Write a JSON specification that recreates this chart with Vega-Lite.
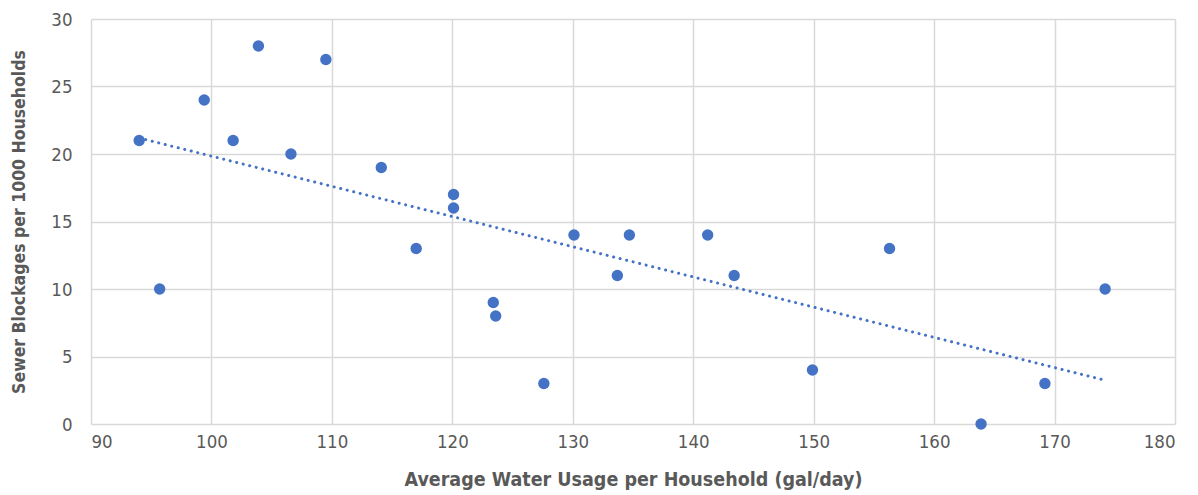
{
  "$schema": "https://vega.github.io/schema/vega-lite/v6.json",
  "width": 1084,
  "height": 405,
  "autosize": {"type": "none"},
  "padding": {"left": 91, "top": 19, "right": 23, "bottom": 71},
  "background": "white",
  "config": {
    "view": {"stroke": null},
    "font": "DejaVu Sans Condensed, sans-serif"
  },
  "data": {
    "values": [
      {"usage": 94.0, "blockages": 21},
      {"usage": 95.7, "blockages": 10},
      {"usage": 99.4, "blockages": 24},
      {"usage": 101.8, "blockages": 21},
      {"usage": 103.9, "blockages": 28},
      {"usage": 106.6, "blockages": 20},
      {"usage": 109.5, "blockages": 27},
      {"usage": 114.1, "blockages": 19},
      {"usage": 117.0, "blockages": 13},
      {"usage": 120.1, "blockages": 17},
      {"usage": 120.1, "blockages": 16},
      {"usage": 123.4, "blockages": 9},
      {"usage": 123.6, "blockages": 8},
      {"usage": 127.6, "blockages": 3},
      {"usage": 130.1, "blockages": 14},
      {"usage": 133.7, "blockages": 11},
      {"usage": 134.7, "blockages": 14},
      {"usage": 141.2, "blockages": 14},
      {"usage": 143.4, "blockages": 11},
      {"usage": 149.9, "blockages": 4},
      {"usage": 156.3, "blockages": 13},
      {"usage": 163.9, "blockages": 0},
      {"usage": 169.2, "blockages": 3},
      {"usage": 174.2, "blockages": 10}
    ]
  },
  "encoding": {
    "x": {
      "field": "usage", "type": "quantitative",
      "scale": {"domain": [90, 180], "nice": false, "zero": false},
      "axis": {
        "title": "Average Water Usage per Household (gal/day)",
        "values": [90, 100, 110, 120, 130, 140, 150, 160, 170, 180],
        "grid": true, "gridColor": "#d9d9d9", "gridWidth": 1.5,
        "domain": false, "ticks": false,
        "labelFontSize": 18.5, "labelColor": "#595959", "labelPadding": 8,
        "titleFontSize": 19.5, "titleFontWeight": "bold", "titleColor": "#595959", "titlePadding": 20
      }
    },
    "y": {
      "field": "blockages", "type": "quantitative",
      "scale": {"domain": [0, 30], "nice": false},
      "axis": {
        "title": "Sewer Blockages per 1000 Households",
        "values": [0, 5, 10, 15, 20, 25, 30],
        "grid": true, "gridColor": "#d9d9d9", "gridWidth": 1.5,
        "domain": false, "ticks": false,
        "labelFontSize": 18.5, "labelColor": "#595959", "labelPadding": 19,
        "titleFontSize": 17.5, "titleFontWeight": "bold", "titleColor": "#595959", "titlePadding": 22
      }
    }
  },
  "layer": [
    {
      "transform": [{"regression": "blockages", "on": "usage", "method": "linear"}],
      "mark": {"type": "line", "color": "#4472C4", "strokeWidth": 3, "strokeDash": [0.1, 6.6], "strokeCap": "round"},
      "encoding": {}
    },
    {
      "mark": {"type": "point", "filled": true, "size": 130, "color": "#4472C4", "opacity": 1}
    }
  ]
}
